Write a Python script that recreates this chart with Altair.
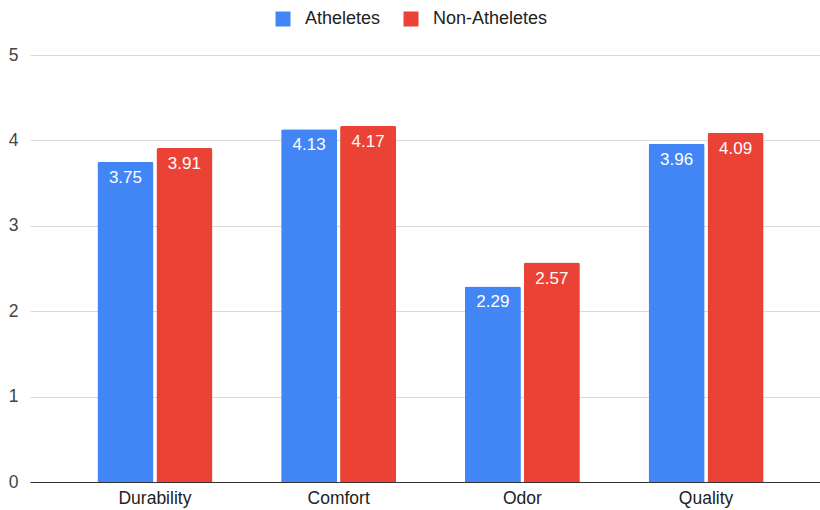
import altair as alt
import pandas as pd

categories = ["Durability", "Comfort", "Odor", "Quality"]
athletes = [3.75, 4.13, 2.29, 3.96]
non_athletes = [3.91, 4.17, 2.57, 4.09]
series = ["Atheletes", "Non-Atheletes"]
colors = ["#4285F4", "#EA4335"]

rows = []
for c, a, n in zip(categories, athletes, non_athletes):
    rows.append({"cat": c, "series": series[0], "value": a})
    rows.append({"cat": c, "series": series[1], "value": n})
df = pd.DataFrame(rows)

FONT = "Liberation Sans"

base = alt.Chart(df).encode(
    x=alt.X("cat:N", sort=categories, title=None,
            scale=alt.Scale(range=[0, 801], paddingInner=0.374, paddingOuter=0.367),
            axis=alt.Axis(labelAngle=0, ticks=False, domain=True, domainColor="#333333",
                          domainWidth=1.2, labelFont=FONT, labelFontSize=17.5,
                          labelColor="#222222", labelPadding=7)),
    xOffset=alt.XOffset("series:N", sort=series, scale=alt.Scale(paddingInner=0.05)),
    y=alt.Y("value:Q", title=None,
            scale=alt.Scale(domain=[0, 5], nice=False),
            axis=alt.Axis(values=[0, 1, 2, 3, 4, 5], ticks=False, domain=False,
                          gridColor="#d9d9d9", labelFont=FONT, labelFontSize=17.5,
                          labelColor="#444444", labelPadding=12, format="d")),
)

bars = base.mark_bar(cornerRadiusTopLeft=2, cornerRadiusTopRight=2).encode(
    color=alt.Color("series:N", sort=series,
                    scale=alt.Scale(domain=series, range=colors),
                    legend=alt.Legend(title=None, orient="none", direction="horizontal",
                                      legendX=244, legendY=-45, symbolType="square",
                                      symbolSize=225, symbolStrokeWidth=0,
                                      labelFont=FONT, labelFontSize=18, labelColor="#222222",
                                      columnPadding=21, labelOffset=13)),
)

labels = base.mark_text(color="white", font=FONT, fontSize=17, baseline="middle",
                        align="center", dy=16).encode(
    text=alt.Text("value:Q", format=".2f"),
)

chart = alt.layer(bars, labels).properties(
    width=790, height=427,
    autosize=alt.AutoSizeParams(type="none"),
    padding={"left": 30, "top": 55, "right": 0, "bottom": 28},
).configure_view(stroke=None).configure_axisX(grid=False)

chart.save("out.html", embed_options={"renderer": "svg", "actions": False})
